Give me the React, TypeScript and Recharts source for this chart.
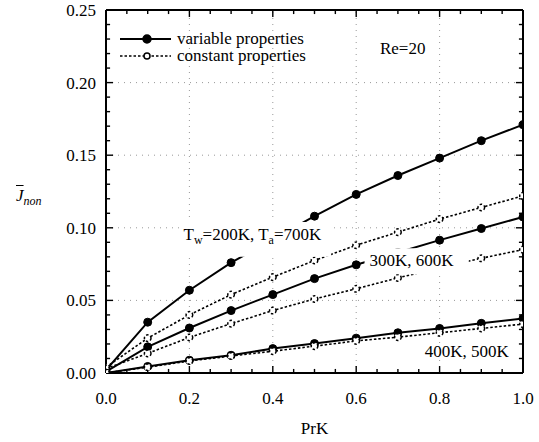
import React from "react";
import { LineChart, Line, XAxis, YAxis, ReferenceArea, ReferenceLine, Legend } from "recharts";

const FONT = "'Liberation Serif', 'Times New Roman', serif";

// PrK sample points
const prk = [0, 0.1, 0.2, 0.3, 0.4, 0.5, 0.6, 0.7, 0.8, 0.9, 1.0];

// Tw=200K, Ta=700K
const var200 = [0.002, 0.035, 0.057, 0.076, 0.092, 0.108, 0.123, 0.136, 0.148, 0.16, 0.171];
const con200 = [0.004, 0.024, 0.04, 0.054, 0.066, 0.0775, 0.088, 0.097, 0.106, 0.114, 0.122];
// 300K, 600K
const var300 = [0.001, 0.018, 0.031, 0.043, 0.054, 0.065, 0.0745, 0.083, 0.0915, 0.0995, 0.1075];
const con300 = [0.003, 0.0135, 0.0245, 0.034, 0.043, 0.051, 0.058, 0.0655, 0.0725, 0.079, 0.085];
// 400K, 500K
const var400 = [0, 0.0045, 0.0088, 0.0122, 0.0168, 0.0203, 0.024, 0.0277, 0.0307, 0.0342, 0.0376];
const con400 = [0, 0.004, 0.0083, 0.0117, 0.015, 0.0185, 0.0221, 0.0247, 0.0277, 0.0307, 0.0337];

const X_MAX = 1;
const Y_MAX = 0.25;
const xLabels = [0, 0.2, 0.4, 0.6, 0.8, 1.0];
const yLabels = [0, 0.05, 0.1, 0.15, 0.2, 0.25];
const xGrid = [0.2, 0.4, 0.6, 0.8];
const yGrid = [0.05, 0.1, 0.15, 0.2];
const xTicks = Array.from({ length: 19 }, (_, i) => +((i + 1) * 0.05).toFixed(2));
const yTicks = Array.from({ length: 24 }, (_, i) => +((i + 1) * 0.01).toFixed(2));

// inward tick lengths in data units (x ticks run along y, y ticks along x)
const X_TICK_LEN = { major: 0.0048, minor: 0.0028 };
const Y_TICK_LEN = { major: 0.017, minor: 0.0098 };

const data = prk.map((x, i) => ({
  prk: x,
  v200: var200[i],
  c200: con200[i],
  v300: var300[i],
  c300: con300[i],
  v400: var400[i],
  c400: con400[i],
}));

const onStep = (v: number, step: number) => Math.abs(v / step - Math.round(v / step)) < 1e-6;

const textProps = { fontFamily: FONT, fontSize: 17, fill: "#000" };

function LegendBox({ payload }: any) {
  const items = (payload ?? [])
    .filter((p: any) => p.type !== "none")
    .sort((a: any, b: any) => (String(a.dataKey) < String(b.dataKey) ? 1 : -1));
  return (
    <svg width={220} height={40}>
      {items.map((item: any, i: number) => {
        const open = String(item.dataKey).startsWith("c");
        const cy = 8 + i * 17;
        return (
          <g key={item.value}>
            <line x1={0} x2={51} y1={cy} y2={cy} stroke="#000" strokeWidth={open ? 1.6 : 2} strokeDasharray={open ? "2.5 2" : undefined} />
            <circle cx={27} cy={cy} r={open ? 3 : 4} fill={open ? "#fff" : "#000"} stroke="#000" strokeWidth={1.5} />
            <text x={57} y={cy + 5} {...textProps}>
              {item.value}
            </text>
          </g>
        );
      })}
    </svg>
  );
}

const label200 = ({ viewBox }: any) => (
  <text x={viewBox.x} y={viewBox.y + 18} {...textProps}>
    T<tspan fontSize={12} dy={4}>w</tspan>
    <tspan dy={-4}>=200K, T</tspan>
    <tspan fontSize={12} dy={4}>a</tspan>
    <tspan dy={-4}>=700K</tspan>
  </text>
);

const label300 = ({ viewBox }: any) => (
  <text x={viewBox.x + 5} y={viewBox.y + 18} {...textProps}>
    300K, 600K
  </text>
);

const label400 = ({ viewBox }: any) => (
  <text x={viewBox.x + viewBox.width} y={viewBox.y + 16} textAnchor="end" {...textProps}>
    400K, 500K
  </text>
);

const labelRe = ({ viewBox }: any) => (
  <text x={viewBox.x} y={viewBox.y + 18} {...textProps}>
    Re=20
  </text>
);

const solidDot = { r: 4, fill: "#000", stroke: "#000", strokeWidth: 1 };
const openDot = { r: 3.3, fill: "#fff", stroke: "#000", strokeWidth: 1.5 };
const tickStyle = { stroke: "#000", strokeWidth: 1.4 };
const frameStyle = { stroke: "#000", strokeWidth: 2 };
const tickFont = { fontFamily: FONT, fontSize: 17, fill: "#000" };

export default function App() {
  return (
    <div style={{ position: "fixed", left: 0, top: 0, width: 539, height: 442, background: "#fff", fontFamily: FONT }}>
      <LineChart width={539} height={442} data={data} margin={{ top: 9, right: 15, bottom: 0, left: 0 }}>
        <XAxis
          dataKey="prk"
          type="number"
          domain={[0, X_MAX]}
          ticks={xLabels}
          interval={0}
          tickSize={0}
          tickMargin={19}
          tickLine={false}
          tick={tickFont}
          tickFormatter={(v: number) => v.toFixed(1)}
          axisLine={frameStyle}
          height={69}
          allowDataOverflow
        />
        {/* top edge of the frame */}
        <XAxis
          xAxisId="top"
          orientation="top"
          type="number"
          domain={[0, X_MAX]}
          tick={false}
          tickLine={false}
          axisLine={frameStyle}
          height={1}
          allowDataOverflow
        />
        <YAxis
          type="number"
          domain={[0, Y_MAX]}
          ticks={yLabels}
          interval={0}
          tickSize={0}
          tickMargin={10}
          tickLine={false}
          tick={tickFont}
          tickFormatter={(v: number) => v.toFixed(2)}
          axisLine={frameStyle}
          width={106}
          allowDataOverflow
        />
        {/* right edge of the frame */}
        <YAxis
          yAxisId="right"
          orientation="right"
          type="number"
          domain={[0, Y_MAX]}
          tick={false}
          tickLine={false}
          axisLine={frameStyle}
          width={1}
          allowDataOverflow
        />

        {xGrid.map((v) => (
          <ReferenceLine key={`gx${v}`} x={v} stroke="#999" strokeDasharray="1 5" />
        ))}
        {yGrid.map((v) => (
          <ReferenceLine key={`gy${v}`} y={v} stroke="#999" strokeDasharray="1 5" />
        ))}

        {/* inward ticks on all four sides */}
        {xTicks.map((v) => (
          <ReferenceLine
            key={`xb${v}`}
            segment={[{ x: v, y: 0 }, { x: v, y: onStep(v, 0.2) ? X_TICK_LEN.major : X_TICK_LEN.minor }]}
            {...tickStyle}
            ifOverflow="visible"
          />
        ))}
        {xTicks.map((v) => (
          <ReferenceLine
            key={`xt${v}`}
            segment={[{ x: v, y: Y_MAX }, { x: v, y: Y_MAX - (onStep(v, 0.2) ? X_TICK_LEN.major : X_TICK_LEN.minor) }]}
            {...tickStyle}
            ifOverflow="visible"
          />
        ))}
        {yTicks.map((v) => (
          <ReferenceLine
            key={`yl${v}`}
            segment={[{ x: 0, y: v }, { x: onStep(v, 0.05) ? Y_TICK_LEN.major : Y_TICK_LEN.minor, y: v }]}
            {...tickStyle}
            ifOverflow="visible"
          />
        ))}
        {yTicks.map((v) => (
          <ReferenceLine
            key={`yr${v}`}
            segment={[{ x: X_MAX, y: v }, { x: X_MAX - (onStep(v, 0.05) ? Y_TICK_LEN.major : Y_TICK_LEN.minor), y: v }]}
            {...tickStyle}
            ifOverflow="visible"
          />
        ))}

        <Legend
          layout="vertical"
          verticalAlign="middle"
          align="center"
          content={(p: any) => <LegendBox {...p} />}
          wrapperStyle={{ position: "absolute", left: 120, top: 31, width: 220 }}
        />

        <Line dataKey="v200" name="variable properties" type="linear" stroke="#000" strokeWidth={2} dot={solidDot} activeDot={false} isAnimationActive={false} />
        <Line dataKey="c200" name="constant properties" type="linear" stroke="#000" strokeWidth={1.6} strokeDasharray="2.5 2" dot={openDot} activeDot={false} isAnimationActive={false} />
        <Line dataKey="v300" legendType="none" type="linear" stroke="#000" strokeWidth={2} dot={solidDot} activeDot={false} isAnimationActive={false} />
        <Line dataKey="c300" legendType="none" type="linear" stroke="#000" strokeWidth={1.6} strokeDasharray="2.5 2" dot={openDot} activeDot={false} isAnimationActive={false} />
        <Line dataKey="v400" legendType="none" type="linear" stroke="#000" strokeWidth={2} dot={solidDot} activeDot={false} isAnimationActive={false} />
        <Line dataKey="c400" legendType="none" type="linear" stroke="#000" strokeWidth={1.6} strokeDasharray="2.5 2" dot={openDot} activeDot={false} isAnimationActive={false} />

        <ReferenceArea x1={0.186} x2={0.54} y1={0.08} y2={0.104} fill="#fff" fillOpacity={1} stroke="none" zIndex={1000} label={label200} />
        <ReferenceArea x1={0.62} x2={0.87} y1={0.068} y2={0.086} fill="#fff" fillOpacity={1} stroke="none" zIndex={1000} label={label300} />
        <ReferenceArea x1={0.75} x2={0.966} y1={0.005} y2={0.022} fill="none" stroke="none" zIndex={1000} label={label400} />
        <ReferenceArea x1={0.657} x2={0.78} y1={0.212} y2={0.232} fill="none" stroke="none" zIndex={1000} label={labelRe} />
      </LineChart>

      {/* axis titles */}
      <div style={{ position: "absolute", left: 106, width: 417, top: 419, fontSize: 17, lineHeight: "20px", textAlign: "center" }}>PrK</div>
      <div style={{ position: "absolute", left: 16, top: 186, fontSize: 17, lineHeight: "20px", fontStyle: "italic" }}>
        <span style={{ textDecoration: "overline" }}>J</span>
        <span style={{ fontSize: 12, position: "relative", top: 4 }}>non</span>
      </div>
    </div>
  );
}
